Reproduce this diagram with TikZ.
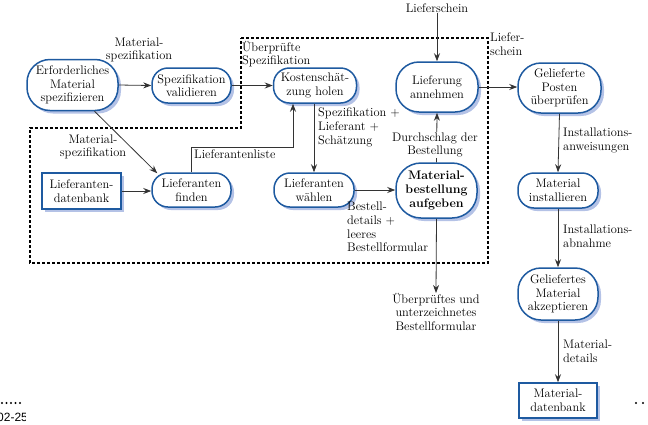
\documentclass[tikz,border=0pt]{standalone}
\usepackage{fontspec}
\newfontfamily\arialfont{Liberation Sans}
\usetikzlibrary{arrows.meta,shadows,calc}
\definecolor{nodeblue}{HTML}{1E5AA0}
\definecolor{shadowblue}{HTML}{B4C2E6}
\definecolor{linegray}{HTML}{333333}
\begin{document}
\begin{tikzpicture}[x=1pt,y=-1pt,
  every node/.style={font=\fontsize{12.4}{13.6}\selectfont, inner sep=0pt},
  proc/.style={draw=nodeblue, line width=1.5pt, fill=white, align=center,
    copy shadow={shadow xshift=3pt, shadow yshift=-3pt, fill=shadowblue, draw=none}},
  store/.style={proc, rectangle},
  arr/.style={draw=linegray, line width=0.8pt, -{Stealth[length=8pt,width=6pt]}},
  lbl/.style={align=left, anchor=north west, text=black},
  clbl/.style={align=center, text=black},
  boundary/.style={draw=black, line width=1.3pt, dash pattern=on 3pt off 2pt}
]
\useasboundingbox (0,0) rectangle (648,424);

% dashed system boundary
\draw[boundary] (241,38) -- (488,38) -- (488,263) -- (30,263) -- (30,128) -- (241,128) -- cycle;

% process nodes
\node[proc, minimum width=91pt, minimum height=51pt, rounded corners=23pt] (n1) at (72.5,85) {Erforderliches\\Material\\spezifizieren};
\node[proc, minimum width=79pt, minimum height=35pt, rounded corners=16pt] (n2) at (191.5,85.5) {Spezifikation\\validieren};
\node[proc, minimum width=83pt, minimum height=35pt, rounded corners=16pt] (n3) at (315,85.5) {Kostenschät-\\zung holen};
\node[proc, minimum width=82pt, minimum height=50pt, rounded corners=23pt] (n4) at (437,87) {Lieferung\\annehmen};
\node[proc, minimum width=83pt, minimum height=50pt, rounded corners=23pt] (n5) at (559.5,88) {Gelieferte\\Posten\\überprüfen};
\node[proc, minimum width=79pt, minimum height=34pt, rounded corners=16pt] (n6) at (191.5,190) {Lieferanten\\finden};
\node[store, minimum width=79pt, minimum height=36pt] (n7) at (81.5,191) {Lieferanten-\\datenbank};
\node[proc, minimum width=80pt, minimum height=34pt, rounded corners=16pt] (n8) at (314,190) {Lieferanten\\wählen};
\node[proc, minimum width=81pt, minimum height=55pt, rounded corners=25pt, font=\fontsize{12.4}{13.6}\selectfont\bfseries] (n9) at (436.5,190.5) {Material-\\bestellung\\aufgeben};
\node[proc, minimum width=80pt, minimum height=35pt, rounded corners=16pt] (n10) at (558,190.5) {Material\\installieren};
\node[proc, minimum width=80pt, minimum height=52pt, rounded corners=23pt] (n11) at (558,294) {Geliefertes\\Material\\akzeptieren};
\node[store, minimum width=78pt, minimum height=35pt] (n12) at (558,400.5) {Material-\\datenbank};

% external texts
\node[clbl] (lsin) at (437,8) {Lieferschein};
\node[clbl, anchor=north] (out) at (436,293) {Überprüftes und\\unterzeichnetes\\Bestellformular};

% connectors
\draw[arr] (n1.east) -- (n2.west);
\node[clbl] at (139,50) {Material-\\spezifikation};
\draw[arr] (n2.east) -- (n3.west);
\node[lbl] at (242,41) {Überprüfte\\Spezifikation};
\draw[arr] ($(n1.south)+(22,0)$) -- ($(n6.north west)+(6,1)$);
\node[clbl] at (93,147) {Material-\\spezifikation};
\draw[arr] (n7.east) -- (n7.east -| n6.west);
\draw[arr] (n6.north) |- ($(n3.south)+(-22,44)$) -- ($(n3.south)+(-22,0)$);
\node[lbl] at (194,150) {Lieferantenliste};
\draw[arr] (n8.north |- n3.south) -- (n8.north);
\node[lbl] at (318,108) {Spezifikation +\\Lieferant +\\Schätzung};
\draw[arr] (n8.east) -- (n8.east -| n9.west);
\draw[arr] (n9.north) -- (n4.south);
\node[clbl, fill=white, inner sep=1pt] at (435,145) {Durchschlag der\\Bestellung};
\draw[arr] (n9.south) -- (out.north);
\node[lbl] at (347,202) {Bestell-\\details +\\leeres\\Bestellformular};
\draw[arr] (lsin.south) -- (n4.north);
\draw[arr] (n4.east) -- (n4.east -| n5.west);
\node[lbl] at (490,33) {Liefer-\\schein};
\draw[arr] (n5.south) -- (n10.north);
\node[lbl] at (563,128) {Installations-\\anweisungen};
\draw[arr] (n10.south) -- (n11.north);
\node[lbl] at (563,225) {Installations-\\abnahme};
\draw[arr] (n11.south) -- (n12.north);
\node[lbl] at (563,340) {Material-\\details};

% page edge fragments
\foreach \x in {2,6.5,11,15.5,20} \fill (\x,403) circle (1.1pt);
\foreach \x in {636,643} \fill (\x,403) circle (1.1pt);
\begin{scope}
\clip (0,395) rectangle (25,424);
\node[anchor=base west, font=\arialfont\fontsize{12}{14}\selectfont] at (-3,421) {02-25};
\end{scope}
\end{tikzpicture}
\end{document}
